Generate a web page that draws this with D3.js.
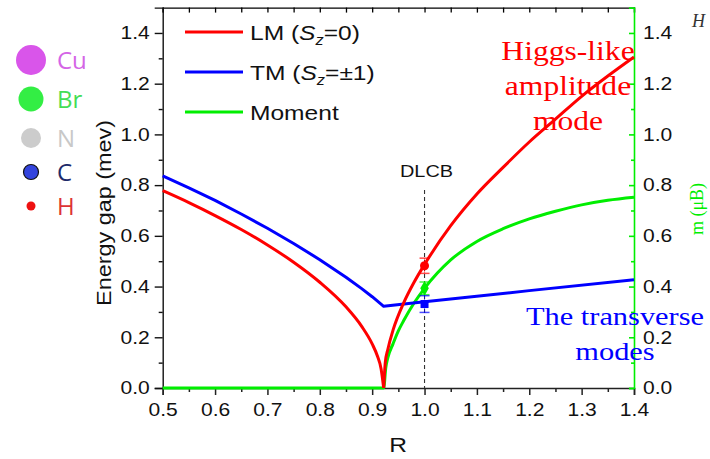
<!DOCTYPE html>
<html>
<head>
<meta charset="utf-8">
<script src="https://cdn.jsdelivr.net/npm/d3@7"></script>
<style>
  body { margin: 0; background: #fff; }
  svg { display: block; }
</style>
</head>
<body>
<svg id="chart" width="710" height="459" font-family="Arial, 'Liberation Sans', sans-serif"></svg>
<script>
// values
// LM splits at the critical point (cusp)
const lmLeftR    = [0.50, 0.55, 0.60, 0.65, 0.70, 0.75, 0.80, 0.85, 0.88, 0.90, 0.91, 0.917, 0.922];
const lmLeftVal  = [0.778, 0.731, 0.680, 0.625, 0.564, 0.496, 0.417, 0.320, 0.243, 0.174, 0.126, 0.076, 0];
const lmRightR   = [0.922, 0.925, 0.93, 0.94, 0.96, 0.98, 1.00, 1.05, 1.10, 1.15, 1.20, 1.25, 1.30, 1.35, 1.40];
const lmRightVal = [0, 0.10, 0.153, 0.229, 0.335, 0.417, 0.487, 0.64, 0.765, 0.87, 0.97, 1.06, 1.15, 1.23, 1.305];

const tmR   = [0.50, 0.55, 0.60, 0.65, 0.70, 0.75, 0.80, 0.85, 0.88, 0.90, 0.922, 1.00, 1.20, 1.40];
const tmVal = [0.836, 0.789, 0.740, 0.686, 0.630, 0.570, 0.506, 0.437, 0.392, 0.360, 0.322, 0.340, 0.384, 0.427];

const momR   = [0.50, 0.922, 0.926, 0.93, 0.94, 0.95, 0.96, 0.98, 1.00, 1.05, 1.10, 1.15, 1.20, 1.25, 1.30, 1.35, 1.40];
const momVal = [0, 0, 0.08, 0.12, 0.175, 0.225, 0.265, 0.335, 0.393, 0.505, 0.578, 0.628, 0.667, 0.697, 0.722, 0.740, 0.752];

// measured points at the DLCB line
const expR     = 1.0;
const expNames = ['LM', 'Moment', 'TM'];
const expVal   = [0.482, 0.393, 0.331];
const expErr   = [0.030, 0.025, 0.033];

const xTicks = [0.5, 0.6, 0.7, 0.8, 0.9, 1.0, 1.1, 1.2, 1.3, 1.4];
const yTicks = [0.0, 0.2, 0.4, 0.6, 0.8, 1.0, 1.2, 1.4];

const legendNames = ['LM', 'TM', 'Moment'];
const atomNames = ['Cu', 'Br', 'N', 'C', 'H'];

const SX = 1.17; // the picture is stretched sideways

const svg = d3.select('#chart');

const x = d3.scaleLinear().domain([0.5, 1.4]).range([162.7, 634]);
const y = d3.scaleLinear().domain([0, 1.5]).range([388, 7.6]);

const red = '#ff0000', blue = '#0000ff', green = '#00ee00';
const serif = "'Times New Roman', 'Liberation Serif', serif";

function stretchTicks(g) {
  g.selectAll('.tick text').each(function() {
    const t = d3.select(this);
    const tx = +t.attr('x') || 0;
    t.attr('x', 0).attr('transform', 'translate(' + tx + ',0) scale(' + SX + ',1)');
  });
}
function label(parent, px, py, str, rot, sx) {
  const k = sx === undefined ? SX : sx;
  const t = parent.append('text')
    .attr('transform', 'translate(' + px + ',' + py + ')' + (rot ? ' rotate(-90)' : '') + ' scale(' + k + ',1)');
  if (str !== null) t.text(str);
  return t;
}

const minorX = d3.range(0.5, 1.4001, 0.05).map(d => +d.toFixed(2));
const minorY = d3.range(0.1, 1.45, 0.2).map(d => +d.toFixed(1));

// top frame
svg.append('g')
  .attr('transform', 'translate(0,' + y(1.5) + ')')
  .call(d3.axisTop(x).tickValues(minorX).tickSize(-5).tickFormat(''))
  .call(g => g.selectAll('line,path').attr('stroke', '#000').attr('stroke-width', 1.3));

// bottom axis
const gx = svg.append('g')
  .attr('transform', 'translate(0,' + y(0) + ')')
  .call(d3.axisBottom(x).tickValues(xTicks).tickSize(7).tickPadding(8).tickFormat(d3.format('.1f')));
gx.append('g').call(d3.axisBottom(x).tickValues(minorX.filter(d => !xTicks.includes(d))).tickSize(4).tickFormat(''))
  .select('.domain').remove();
gx.selectAll('line,path').attr('stroke', '#222').attr('stroke-width', 1.5);
gx.selectAll('text').attr('font-size', 18).attr('fill', '#111').attr('font-family', null);
stretchTicks(gx);

// left axis
const gy = svg.append('g')
  .attr('transform', 'translate(' + x(0.5) + ',0)')
  .call(d3.axisLeft(y).tickValues(yTicks).tickSize(8).tickPadding(5).tickFormat(d3.format('.1f')));
gy.append('g').call(d3.axisLeft(y).tickValues(minorY).tickSize(4).tickFormat(''))
  .select('.domain').remove();
gy.selectAll('line,path').attr('stroke', '#111').attr('stroke-width', 1.4);
gy.selectAll('text').attr('font-size', 18).attr('fill', '#111').attr('font-family', null);
stretchTicks(gy);

// right axis (moment, green)
const gr = svg.append('g')
  .attr('transform', 'translate(' + x(1.4) + ',0)')
  .call(d3.axisRight(y).tickValues(yTicks).tickSize(-5).tickPadding(9).tickFormat(d3.format('.1f')));
gr.append('g').call(d3.axisRight(y).tickValues(minorY).tickSize(-3).tickFormat(''))
  .select('.domain').remove();
gr.selectAll('line,path').attr('stroke', green).attr('stroke-width', 1.6);
gr.selectAll('text').attr('font-size', 18).attr('fill', '#111').attr('font-family', null);
stretchTicks(gr);

// axis groups set their own font; let the svg font win
svg.selectAll('g').attr('font-family', null);

// DLCB marker line
svg.append('line')
  .attr('x1', x(1.0)).attr('x2', x(1.0))
  .attr('y1', 190).attr('y2', y(0))
  .attr('stroke', '#333').attr('stroke-width', 1.1).attr('stroke-dasharray', '4,3');
label(svg, x(1.0) + 2, 177, 'DLCB').attr('text-anchor', 'middle').attr('font-size', 17).attr('fill', '#111');

// curves
const smooth = d3.line().x(d => x(d[0])).y(d => y(d[1])).curve(d3.curveMonotoneX);
const straight = d3.line().x(d => x(d[0])).y(d => y(d[1]));
const series = [
  { r: momR, v: momVal, c: green, gen: smooth },
  { r: tmR, v: tmVal, c: blue, gen: straight },
  { r: lmLeftR, v: lmLeftVal, c: red, gen: smooth },
  { r: lmRightR, v: lmRightVal, c: red, gen: smooth }
];
series.forEach(s => {
  svg.append('path')
    .datum(s.r.map((r, i) => [r, s.v[i]]))
    .attr('fill', 'none')
    .attr('stroke', s.c)
    .attr('stroke-width', 3)
    .attr('stroke-linejoin', 'round')
    .attr('d', s.gen);
});

// measured points with error caps
const expColor = [red, green, blue];
expVal.forEach((v, i) => {
  const c = expColor[i];
  [v - expErr[i], v + expErr[i]].forEach(e => {
    svg.append('line')
      .attr('x1', x(expR) - 5).attr('x2', x(expR) + 5)
      .attr('y1', y(e)).attr('y2', y(e))
      .attr('stroke', c).attr('stroke-width', 1.5).attr('opacity', 0.7);
  });
  svg.append('line')
    .attr('x1', x(expR)).attr('x2', x(expR))
    .attr('y1', y(v - expErr[i])).attr('y2', y(v + expErr[i]))
    .attr('stroke', c).attr('stroke-width', 1).attr('opacity', 0.5);
  const shape = expNames[i] === 'LM' ? d3.symbolCircle : expNames[i] === 'Moment' ? d3.symbolDiamond : d3.symbolSquare;
  svg.append('path')
    .attr('transform', 'translate(' + x(expR) + ',' + y(v) + ')')
    .attr('d', d3.symbol().type(shape).size(64))
    .attr('fill', c);
});

// legend
const legColor = [red, blue, green];
legendNames.forEach((n, i) => {
  const ly = 32 + i * 40;
  svg.append('line')
    .attr('x1', 185).attr('x2', 243).attr('y1', ly).attr('y2', ly)
    .attr('stroke', legColor[i]).attr('stroke-width', 3);
  const t = label(svg, 250, ly + 7.5, null).attr('font-size', 21).attr('fill', '#111');
  if (n === 'Moment') {
    t.text('Moment');
  } else {
    t.append('tspan').text(n + ' (');
    t.append('tspan').attr('font-style', 'italic').text('S');
    t.append('tspan').attr('font-size', 14).attr('dy', 5).attr('font-style', 'italic').text('z');
    t.append('tspan').attr('dy', -5).text(n === 'LM' ? '=0)' : '=\u00b11)');
  }
});

// annotations
['Higgs-like', 'amplitude', 'mode'].forEach((s, i) => {
  label(svg, 568, 60 + i * 35, s).attr('text-anchor', 'middle').attr('font-size', 27)
    .attr('font-family', serif).attr('fill', red);
});
['The transverse', 'modes'].forEach((s, i) => {
  label(svg, 615, 325 + i * 35, s).attr('text-anchor', 'middle').attr('font-size', 26)
    .attr('font-family', serif).attr('fill', blue);
});

// axis titles
label(svg, 398, 452, 'R').attr('text-anchor', 'middle').attr('font-size', 21).attr('fill', '#111');
label(svg, 111, 213, 'Energy gap (mev)', true).attr('text-anchor', 'middle').attr('font-size', 20).attr('fill', '#111');
label(svg, 703, 209, 'm (\u03bcB)', true, 1).attr('text-anchor', 'middle').attr('font-size', 18)
  .attr('font-family', serif).attr('fill', green);
label(svg, 692, 27, 'H', false, 1).attr('font-size', 18).attr('font-style', 'italic')
  .attr('font-family', serif).attr('fill', '#333');

// atom key
const atomFill = ['#d955ea', '#33ee44', '#cccccc', '#3344dd', '#ee1111'];
const atomText = ['#d465e6', '#44dd55', '#c8c8c8', '#1e2a6a', '#dd3333'];
const atomRad = [15, 12.5, 10, 7.5, 4.5];
const atomY = [60, 99, 138, 172, 206];
atomNames.forEach((n, i) => {
  svg.append('circle')
    .attr('cx', 31).attr('cy', atomY[i]).attr('r', atomRad[i])
    .attr('fill', atomFill[i])
    .attr('stroke', n === 'C' ? '#111' : 'none').attr('stroke-width', 1.2);
  svg.append('text')
    .attr('x', 57).attr('y', atomY[i] + 8.5)
    .attr('font-size', 24).attr('font-family', "'Open Sans', 'Noto Sans', sans-serif")
    .attr('fill', atomText[i]).text(n);
});
</script>
</body>
</html>
